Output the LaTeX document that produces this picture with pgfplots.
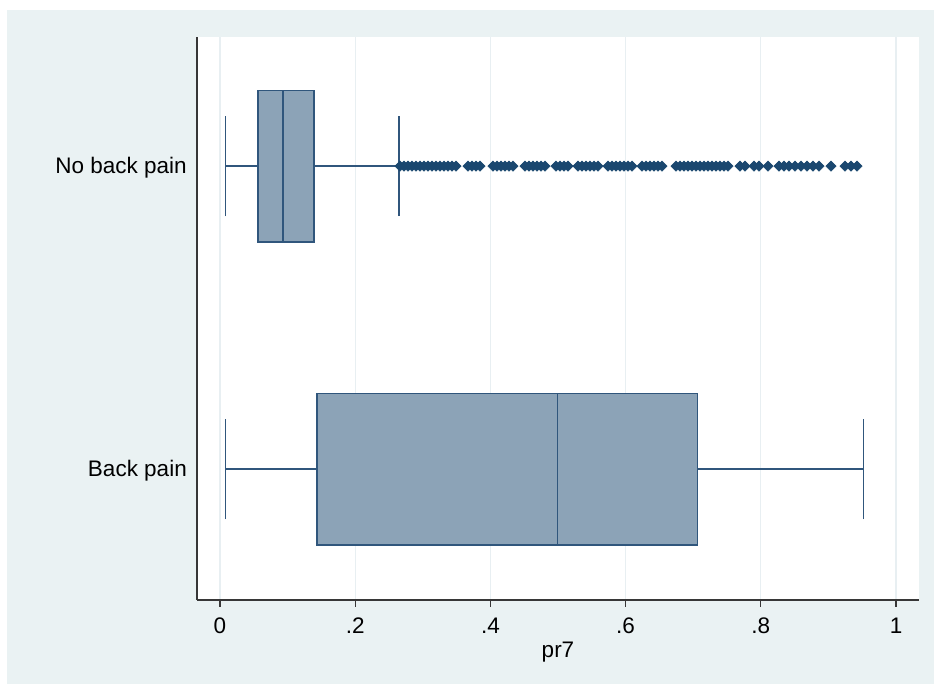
\documentclass[border=0pt]{standalone}
\usepackage{pgfplots}
\pgfplotsset{compat=1.18}
\usepgfplotslibrary{statistics}
\usepackage{fontspec}
\setmainfont{Liberation Sans}

\definecolor{graphbg}{RGB}{234,242,243}
\definecolor{gridc}{RGB}{232,239,242}
\definecolor{navy}{RGB}{26,71,111}
\definecolor{boxfill}{RGB}{140,163,183}
\definecolor{boxline}{RGB}{48,86,124}
\definecolor{axisc}{RGB}{55,55,55}

\begin{document}
\begin{tikzpicture}[x=1pt,y=1pt]
\useasboundingbox (0,0) rectangle (935,684);
\fill[white] (0,0) rectangle (935,684);
\fill[graphbg] (7,0) rectangle (934,674);
\begin{axis}[
  at={(197pt,84pt)}, anchor=south west,
  scale only axis, width=722pt, height=563pt,
  xmin=-0.034, xmax=1.034, ymin=0.568, ymax=2.426,
  axis lines*=left,
  axis line style={-, draw=axisc, line width=1.6pt},
  axis background/.style={fill=white},
  font=\fontsize{22.5}{26}\selectfont,
  boxplot/draw direction=x,
  xtick={0,0.2,0.4,0.6,0.8,1},
  xticklabels={0,.2,.4,.6,.8,1},
  ytick={1,2},
  yticklabels={Back pain,No back pain},
  tick align=outside,
  major tick length=7pt,
  x tick style={draw=axisc, line width=1.2pt},
  y tick style={draw=none},
  xmajorgrids,
  major x grid style={draw=gridc, line width=1.2pt},
  xticklabel style={inner sep=0pt, anchor=north, yshift=-11pt},
  yticklabel style={inner sep=0pt, anchor=east, xshift=-3pt, yshift=-2pt},
  xlabel={pr7},
  x label style={at={(axis description cs:0.5,0)}, anchor=base, inner sep=0pt, yshift=-58pt},
  clip=false,
]
% box for the group with back pain
\addplot[boxplot prepared={
    lower whisker=0.008, lower quartile=0.1435, median=0.499,
    upper quartile=0.706, upper whisker=0.952,
    draw position=1, box extend=0.5, whisker extend=0.33},
  draw=boxline, fill=boxfill, line width=1.5pt] coordinates {};
% box for the group without back pain
\addplot[boxplot prepared={
    lower whisker=0.008, lower quartile=0.056, median=0.093,
    upper quartile=0.139, upper whisker=0.265,
    draw position=2, box extend=0.5, whisker extend=0.33},
  draw=boxline, fill=boxfill, line width=1.5pt] coordinates {};
% outside values, no back pain
\addplot[only marks, mark=square*, mark size=3.6pt,
  mark options={rotate=45, draw=navy, fill=navy, line width=0.6pt}]
  coordinates {
  (0.2663,2) (0.2722,2) (0.2781,2) (0.2840,2) (0.2899,2) (0.2959,2)
  (0.3018,2) (0.3077,2) (0.3136,2) (0.3195,2) (0.3254,2) (0.3314,2)
  (0.3373,2) (0.3432,2) (0.3491,2) (0.3669,2) (0.3728,2) (0.3787,2)
  (0.3846,2) (0.4038,2) (0.4098,2) (0.4157,2) (0.4216,2) (0.4275,2)
  (0.4334,2) (0.4512,2) (0.4571,2) (0.4630,2) (0.4689,2) (0.4749,2)
  (0.4808,2) (0.4970,2) (0.5030,2) (0.5089,2) (0.5148,2) (0.5296,2)
  (0.5355,2) (0.5414,2) (0.5473,2) (0.5533,2) (0.5592,2) (0.5740,2)
  (0.5799,2) (0.5858,2) (0.5917,2) (0.5976,2) (0.6036,2) (0.6095,2)
  (0.6243,2) (0.6302,2) (0.6361,2) (0.6420,2) (0.6479,2) (0.6538,2)
  (0.6746,2) (0.6805,2) (0.6864,2) (0.6923,2) (0.6982,2) (0.7041,2)
  (0.7101,2) (0.7160,2) (0.7219,2) (0.7278,2) (0.7337,2) (0.7396,2)
  (0.7456,2) (0.7515,2) (0.7692,2) (0.7766,2) (0.7899,2) (0.7973,2)
  (0.8107,2) (0.8269,2) (0.8343,2) (0.8417,2) (0.8506,2) (0.8595,2)
  (0.8683,2) (0.8772,2) (0.8861,2) (0.9038,2) (0.9246,2) (0.9334,2)
  (0.9423,2)
  };
\end{axis}
\end{tikzpicture}
\end{document}
